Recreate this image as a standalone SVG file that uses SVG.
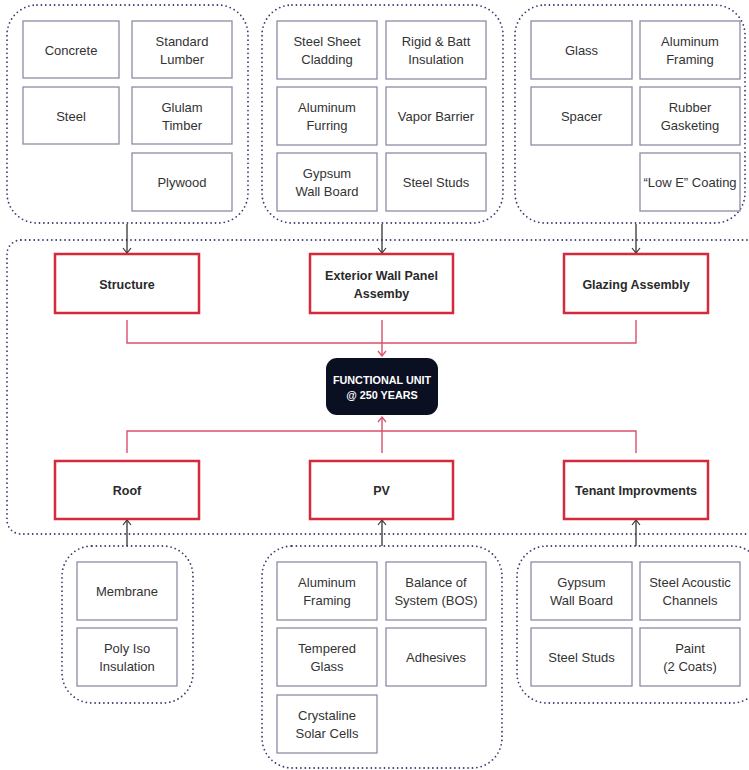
<svg xmlns="http://www.w3.org/2000/svg" width="749" height="770" viewBox="0 0 749 770">
<defs>
<style>
.cl{fill:none;stroke:#3b3b70;stroke-width:1.8;stroke-dasharray:0 4.4;stroke-linecap:round}
.m rect{fill:#fff;stroke:#8c8ca6;stroke-width:1.3}
.m text{font-family:"Liberation Sans",Arial,sans-serif;font-size:13px;fill:#333;text-anchor:middle}
.c rect{fill:#fff;stroke:#d42a3c;stroke-width:2.5}
.c text{font-family:"Liberation Sans",Arial,sans-serif;font-size:12.5px;font-weight:bold;fill:#2a2a2a;text-anchor:middle}
.fu{font-family:"Liberation Sans",Arial,sans-serif;font-size:10.8px;font-weight:bold;fill:#fff;text-anchor:middle}
.dk{fill:none;stroke:#333;stroke-width:1.3}
.rd{fill:none;stroke:#d9506a;stroke-width:1.4}
</style>
<marker id="ad" viewBox="-7 -5 8 10" refX="0" refY="0" markerWidth="8" markerHeight="10" markerUnits="userSpaceOnUse" orient="auto"><path d="M-5,-4 L0,0 L-5,4" fill="none" stroke="#333" stroke-width="1.2"/></marker>
<marker id="ar" viewBox="-7 -5 8 10" refX="0" refY="0" markerWidth="8" markerHeight="10" markerUnits="userSpaceOnUse" orient="auto"><path d="M-5,-4 L0,0 L-5,4" fill="none" stroke="#d9506a" stroke-width="1.3"/></marker>
</defs>
<rect width="749" height="770" fill="#fff"/>

<g id="clusters">
<rect class="cl" x="7" y="5" width="241" height="218" rx="30"/>
<rect class="cl" x="262" y="5" width="241" height="218" rx="30"/>
<rect class="cl" x="515" y="5" width="230" height="218" rx="30"/>
<rect class="cl" x="7" y="240" width="770" height="294" rx="14"/>
<rect class="cl" x="62" y="546" width="131" height="157" rx="30"/>
<rect class="cl" x="262" y="546" width="240" height="222" rx="30"/>
<rect class="cl" x="517" y="546" width="245" height="157" rx="30"/>
</g>

<g id="connectors">
<line class="dk" x1="127" y1="224" x2="127" y2="253" marker-end="url(#ad)"/>
<line class="dk" x1="382" y1="224" x2="382" y2="253" marker-end="url(#ad)"/>
<line class="dk" x1="636" y1="224" x2="636" y2="253" marker-end="url(#ad)"/>
<path class="rd" d="M127,320 V343 H636 V320"/>
<line class="rd" x1="382" y1="320" x2="382" y2="356" marker-end="url(#ar)"/>
<path class="rd" d="M127,453 V431 H636 V453"/>
<line class="rd" x1="382" y1="453" x2="382" y2="417" marker-end="url(#ar)"/>
<line class="dk" x1="127" y1="546" x2="127" y2="520" marker-end="url(#ad)"/>
<line class="dk" x1="382" y1="546" x2="382" y2="520" marker-end="url(#ad)"/>
<line class="dk" x1="636" y1="546" x2="636" y2="520" marker-end="url(#ad)"/>
</g>

<g id="n-concrete" class="m"><rect x="23" y="21" width="96" height="57"/><text x="71" y="55">Concrete</text></g>
<g id="n-lumber" class="m"><rect x="132" y="21" width="100" height="57"/><text x="182" y="46">Standard</text><text x="182" y="64">Lumber</text></g>
<g id="n-steel" class="m"><rect x="23" y="87" width="96" height="57"/><text x="71" y="121">Steel</text></g>
<g id="n-glulam" class="m"><rect x="132" y="87" width="100" height="57"/><text x="182" y="112">Glulam</text><text x="182" y="130">Timber</text></g>
<g id="n-plywood" class="m"><rect x="132" y="153" width="100" height="58"/><text x="182" y="187">Plywood</text></g>

<g id="n-cladding" class="m"><rect x="277" y="21" width="100" height="58"/><text x="327" y="46">Steel Sheet</text><text x="327" y="64">Cladding</text></g>
<g id="n-insulation" class="m"><rect x="386" y="21" width="100" height="58"/><text x="436" y="46">Rigid &amp; Batt</text><text x="436" y="64">Insulation</text></g>
<g id="n-furring" class="m"><rect x="277" y="87" width="100" height="58"/><text x="327" y="112">Aluminum</text><text x="327" y="130">Furring</text></g>
<g id="n-vapor" class="m"><rect x="386" y="87" width="100" height="58"/><text x="436" y="121">Vapor Barrier</text></g>
<g id="n-gypsum1" class="m"><rect x="277" y="153" width="100" height="58"/><text x="327" y="178">Gypsum</text><text x="327" y="196">Wall Board</text></g>
<g id="n-studs1" class="m"><rect x="386" y="153" width="100" height="58"/><text x="436" y="187">Steel Studs</text></g>

<g id="n-glass" class="m"><rect x="531" y="21" width="101" height="58"/><text x="581.5" y="55">Glass</text></g>
<g id="n-alframing1" class="m"><rect x="640" y="21" width="100" height="58"/><text x="690" y="46">Aluminum</text><text x="690" y="64">Framing</text></g>
<g id="n-spacer" class="m"><rect x="531" y="87" width="101" height="58"/><text x="581.5" y="121">Spacer</text></g>
<g id="n-gasket" class="m"><rect x="640" y="87" width="100" height="58"/><text x="690" y="112">Rubber</text><text x="690" y="130">Gasketing</text></g>
<g id="n-lowe" class="m"><rect x="640" y="153" width="100" height="58"/><text x="690" y="187">“Low E” Coating</text></g>

<g id="n-structure" class="c"><rect x="55" y="254" width="144" height="59"/><text x="127" y="289">Structure</text></g>
<g id="n-wall" class="c"><rect x="310" y="254" width="143" height="59"/><text x="381.5" y="280">Exterior Wall Panel</text><text x="381.5" y="298">Assemby</text></g>
<g id="n-glazing" class="c"><rect x="564" y="254" width="144" height="59"/><text x="636" y="289">Glazing Assembly</text></g>

<g id="n-fu"><rect x="326" y="358" width="112" height="57" rx="11" fill="#0a0f22"/><text class="fu" x="382" y="384">FUNCTIONAL UNIT</text><text class="fu" x="382" y="399">@ 250 YEARS</text></g>

<g id="n-roof" class="c"><rect x="55" y="461" width="144" height="58"/><text x="127" y="495">Roof</text></g>
<g id="n-pv" class="c"><rect x="310" y="461" width="143" height="58"/><text x="381.5" y="495">PV</text></g>
<g id="n-tenant" class="c"><rect x="564" y="461" width="144" height="58"/><text x="636" y="495">Tenant Improvments</text></g>

<g id="n-membrane" class="m"><rect x="77" y="562" width="100" height="58"/><text x="127" y="596">Membrane</text></g>
<g id="n-polyiso" class="m"><rect x="77" y="628" width="100" height="58"/><text x="127" y="653">Poly Iso</text><text x="127" y="671">Insulation</text></g>

<g id="n-alframing2" class="m"><rect x="277" y="562" width="100" height="58"/><text x="327" y="587">Aluminum</text><text x="327" y="605">Framing</text></g>
<g id="n-bos" class="m"><rect x="386" y="562" width="100" height="58"/><text x="436" y="587">Balance of</text><text x="436" y="605">System (BOS)</text></g>
<g id="n-tempered" class="m"><rect x="277" y="628" width="100" height="58"/><text x="327" y="653">Tempered</text><text x="327" y="671">Glass</text></g>
<g id="n-adhesives" class="m"><rect x="386" y="628" width="100" height="58"/><text x="436" y="662">Adhesives</text></g>
<g id="n-cells" class="m"><rect x="277" y="695" width="100" height="58"/><text x="327" y="720">Crystaline</text><text x="327" y="738">Solar Cells</text></g>

<g id="n-gypsum2" class="m"><rect x="531" y="562" width="101" height="58"/><text x="581.5" y="587">Gypsum</text><text x="581.5" y="605">Wall Board</text></g>
<g id="n-channels" class="m"><rect x="640" y="562" width="100" height="58"/><text x="690" y="587">Steel Acoustic</text><text x="690" y="605">Channels</text></g>
<g id="n-studs2" class="m"><rect x="531" y="628" width="101" height="58"/><text x="581.5" y="662">Steel Studs</text></g>
<g id="n-paint" class="m"><rect x="640" y="628" width="100" height="58"/><text x="690" y="653">Paint</text><text x="690" y="671">(2 Coats)</text></g>
</svg>
